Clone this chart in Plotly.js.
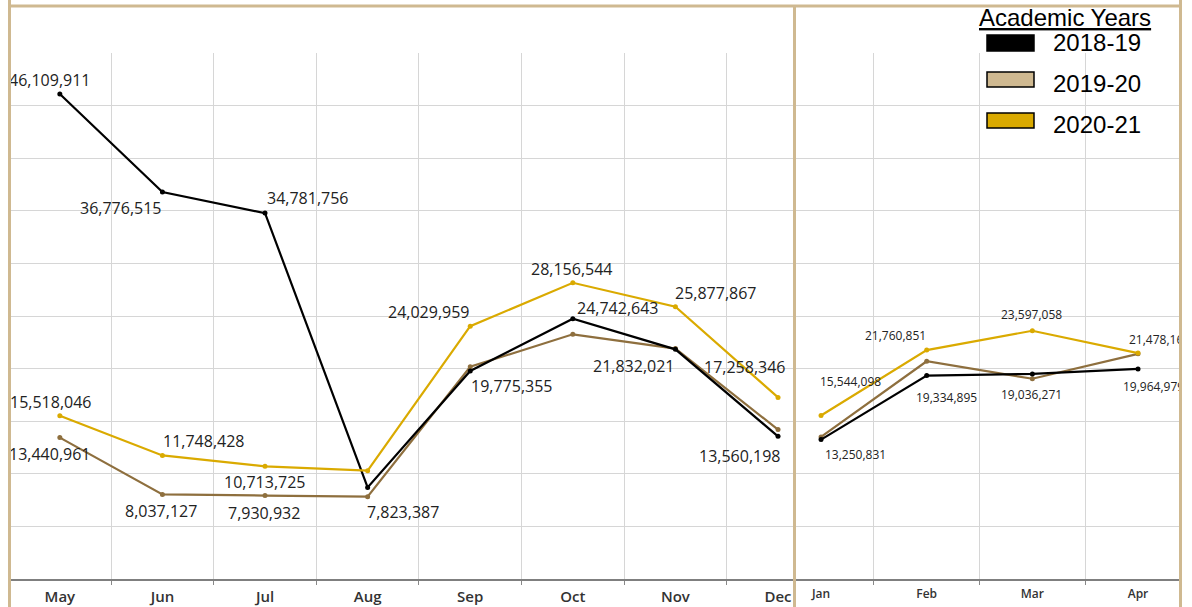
<!DOCTYPE html>
<html><head><meta charset="utf-8">
<script src="https://cdn.plot.ly/plotly-3.0.1.min.js"></script>
<style>html,body{margin:0;padding:0;background:#fff}#chart{width:1192px;height:607px}</style>
</head><body><div id="chart"></div>
<script>
// ---- data ----
const monthsFall = ['May','Jun','Jul','Aug','Sep','Oct','Nov','Dec'];
const monthsSpring = ['Jan','Feb','Mar','Apr'];
const seriesNames = ['2018-19','2019-20','2020-21'];

const fall1819 = [46109911, 36776515, 34781756, 8700000, 19775355, 24742643, 21832021, 13560198];
const fall1920 = [13440961, 8037127, 7930932, 7823387, 20180000, 23260000, 21900000, 14200000];
const fall2021 = [15518046, 11748428, 10713725, 10300000, 24029959, 28156544, 25877867, 17258346];

const spring1819 = [13250831, 19334895, 19490000, 19964979];
const spring1920 = [13500000, 20700000, 19036271, 21400000];
const spring2021 = [15544098, 21760851, 23597058, 21478164];

// ---- styles ----
const lineColors = ['#000000', '#8E6F3E', '#DAAA00'];
const legendFill = ['#000000', '#CFB991', '#DAAA00'];
const tan = '#CFB991';
const gridColor = '#d6d6d6';

// label offsets [dx, dy] in px (dy positive = down) keyed by point index
const fallLabelOffsets = [
  {0:[-10,-14],1:[-42,16],2:[42,-15],4:[41,15],5:[45,-11],6:[-42,17],7:[-39,20]},
  {0:[-10,16],1:[-1,17],2:[-1,17],3:[35,15]},
  {0:[-9,-14],1:[41,-14],2:[-1,16],4:[-42,-14],5:[-1,-14],6:[40,-14],7:[-34,-30]}
];
const springLabelOffsets = [
  {0:[34,15],1:[20,22],3:[15,18]},
  {2:[-1,16]},
  {0:[29,-34],1:[-31,-15],2:[-1,-16],3:[21,-14]}
];

// ---- geometry helpers (pixel -> paper) ----
const L = 11, R = 1179, T = 53, B = 579;
const px = x => (x - L) / (R - L);
const py = y => (B - y) / (B - T);

const fallSeries = [fall1819, fall1920, fall2021];
const springSeries = [spring1819, spring1920, spring2021];
const drawOrder = [1, 0, 2];

const traces = [];
drawOrder.forEach(i => {
  traces.push({x: monthsFall, y: fallSeries[i], type:'scatter', mode:'lines+markers', name: seriesNames[i],
    line:{color: lineColors[i], width:2.2}, marker:{color: lineColors[i], size:5}, xaxis:'x', yaxis:'y',
    showlegend:false, cliponaxis:false, hoverinfo:'skip'});
  traces.push({x: monthsSpring, y: springSeries[i], type:'scatter', mode:'lines+markers', name: seriesNames[i],
    line:{color: lineColors[i], width:2.2}, marker:{color: lineColors[i], size:5}, xaxis:'x2', yaxis:'y2',
    showlegend:false, cliponaxis:false, hoverinfo:'skip'});
});

const fmt = v => v.toLocaleString('en-US');
const annotations = [];
const fallFont = {family:'Open Sans, Liberation Sans, sans-serif', size:16, color:'#222'};
const springFont = {family:'Open Sans, Liberation Sans, sans-serif', size:12, color:'#222'};

fallSeries.forEach((s, si) => {
  Object.entries(fallLabelOffsets[si]).forEach(([k, off]) => {
    const idx = +k;
    annotations.push({xref:'x', yref:'y', x: monthsFall[idx], y: s[idx], text: fmt(s[idx]),
      showarrow:false, xanchor:'center', yanchor:'middle', xshift: off[0], yshift: -off[1], font: fallFont});
  });
});
springSeries.forEach((s, si) => {
  Object.entries(springLabelOffsets[si]).forEach(([k, off]) => {
    const idx = +k;
    annotations.push({xref:'x2', yref:'y2', x: monthsSpring[idx], y: s[idx], text: fmt(s[idx]),
      showarrow:false, xanchor:'center', yanchor:'middle', xshift: off[0], yshift: -off[1], font: springFont});
  });
});

// legend (drawn manually)
const legendFont = {family:'Liberation Sans, Arial, sans-serif', size:24, color:'#000'};
annotations.push({xref:'paper', yref:'paper', x: px(1065), y: py(18), text:'<u>Academic Years</u>',
  showarrow:false, xanchor:'center', yanchor:'middle', font: legendFont});
const legendTextY = [43, 83, 124];
const legendBoxY = [[35,51],[72,87],[113,128]];
seriesNames.forEach((n, i) => {
  annotations.push({xref:'paper', yref:'paper', x: px(1051), y: py(legendTextY[i]), text: n,
    showarrow:false, xanchor:'left', yanchor:'middle', font: legendFont});
});

// frame masks (clip labels at the border, as in the reference)
annotations.push({xref:'paper', yref:'paper', x: px(11), y: py(303), xanchor:'right', yanchor:'middle',
  width:40, height:700, text:' ', showarrow:false, bgcolor:'#ffffff', bordercolor: tan, borderwidth:3, borderpad:0});
annotations.push({xref:'paper', yref:'paper', x: px(1179), y: py(303), xanchor:'left', yanchor:'middle',
  width:40, height:700, text:' ', showarrow:false, bgcolor:'#ffffff', bordercolor: tan, borderwidth:3, borderpad:0});

const shapes = [];
legendBoxY.forEach((yy, i) => {
  shapes.push({type:'rect', xref:'paper', yref:'paper', x0: px(987), x1: px(1034), y0: py(yy[1]), y1: py(yy[0]),
    fillcolor: legendFill[i], line:{color:'#000', width:1.5}, layer:'above'});
});
shapes.push({type:'line', xref:'paper', yref:'paper', x0: px(8), x1: px(1182), y0: py(6), y1: py(6),
  line:{color: tan, width:3}, layer:'above'});
shapes.push({type:'line', xref:'paper', yref:'paper', x0: px(794.5), x1: px(794.5), y0: py(5), y1: py(620),
  line:{color: tan, width:3}, layer:'above'});

const xCommon = {type:'category', showgrid:true, gridcolor: gridColor, gridwidth:1, tickson:'boundaries',
  ticks:'outside', ticklen:4, tickcolor:'#888', showline:true, linecolor:'#7f7f7f', linewidth:2,
  zeroline:false, fixedrange:true, ticklabelstandoff:3};
const yCommon = {range:[0, 50000000], dtick:5000000, showgrid:true, gridcolor: gridColor, gridwidth:1,
  showticklabels:false, zeroline:false, showline:false, ticks:'', fixedrange:true};

const layout = {
  width:1192, height:607,
  margin:{l:L, r:1192-R, t:T, b:607-B, pad:0},
  paper_bgcolor:'#fff', plot_bgcolor:'#fff',
  showlegend:false,
  xaxis: Object.assign({}, xCommon, {domain:[0, px(793)], range:[-0.476, 7.146],
    tickfont:{family:'Open Sans, sans-serif', size:15, color:'#333', weight:600}}),
  xaxis2: Object.assign({}, xCommon, {domain:[px(796), 1], range:[-0.237, 3.388], anchor:'y2',
    tickfont:{family:'Open Sans, sans-serif', size:12, color:'#333', weight:600}}),
  yaxis: Object.assign({}, yCommon, {domain:[0,1], anchor:'x'}),
  yaxis2: Object.assign({}, yCommon, {domain:[0,1], anchor:'x2'}),
  annotations: annotations,
  shapes: shapes
};

Plotly.newPlot('chart', traces, layout, {staticPlot:true, displayModeBar:false});
</script>
</body></html>
